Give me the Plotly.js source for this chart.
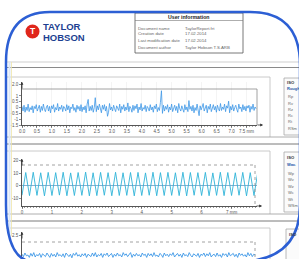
<!DOCTYPE html>
<html><head><meta charset="utf-8">
<script src="https://cdn.plot.ly/plotly-3.0.1.min.js"></script>
<style>html,body{margin:0;padding:0;background:#fff;overflow:hidden}#chart{width:299px;height:259px}</style>
</head><body><div id="chart"></div>
<script>
// ---------- data ----------
const roughXTicks = [0,0.5,1,1.5,2,2.5,3,3.5,4,4.5,5,5.5,6,6.5,7,7.5];
const roughXText = ["0.0","0.5","1.0","1.5","2.0","2.5","3.0","3.5","4.0","4.5","5.0","5.5","6.0","6.5","7.0","7.5 mm"];
const roughYTicks = [2,1,0.5,0,-0.5,-1,-1.5];
const roughYText = ["2.0","1","0.5","0","-0.5","-1","-1.5"];
const roughY = [
0.1,-0.3,0.2,-0.4,0.05,-0.25,0.3,-0.35,0.0,-0.2,
0.15,-0.45,0.1,-0.1,0.25,-0.3,-0.05,0.2,-0.4,0.1,
-0.25,0.3,-0.15,-0.35,0.05,0.2,-0.3,0.1,-0.45,0.15,
-0.1,0.25,-0.4,0.0,-0.2,0.35,-0.3,0.05,-0.15,0.2,
-0.35,0.1,-0.05,-0.3,0.25,-0.2,0.15,-0.45,0.05,-0.1,
0.3,-0.25,0.0,-0.4,0.2,-0.15,0.1,-0.3,0.25,-0.35,
0.05,-0.2,0.15,-0.45,0.3,0.7,-0.3,0.1,-0.25,0.2,
-0.4,0.0,0.85,-0.35,0.15,-0.2,0.3,-0.1,-0.45,0.2,
-0.15,0.25,-0.3,0.1,-0.75,-0.4,0.35,-0.2,0.05,-0.3,
0.2,-0.1,-0.35,0.15,0.0,-0.25,0.3,-0.45,0.1,-0.15,
0.25,-0.3,0.05,-0.2,0.4,-0.35,0.1,-0.05,-0.4,0.2,
-0.25,0.15,-0.1,0.3,-0.45,0.05,-0.2,0.35,-0.3,0.0,
-0.15,0.2,-0.35,0.1,-0.05,-0.3,0.25,-0.2,0.05,-0.4,
0.15,-0.1,0.3,-0.35,0.0,-0.25,0.45,1.45,-0.5,0.2,
-0.3,0.1,-0.15,0.25,-0.4,0.05,-0.2,0.3,-0.35,0.0,
0.2,-0.25,0.1,-0.45,0.35,-0.1,-0.3,0.15,-0.05,-0.4,
0.25,-0.2,0.05,-0.35,0.6,-0.15,0.1,-0.3,0.2,-0.45,
0.0,-0.25,0.3,-0.1,-0.7,0.15,-0.2,0.05,0.35,-0.3,
-0.05,0.2,-0.45,0.1,-0.15,0.3,-0.35,0.0,0.25,-0.2,
0.1,-0.4,0.2,-0.1,-0.3,0.35,-0.25,0.05,-0.15,0.3,
-0.35,0.15,-0.05,0.55,-0.45,0.1,-0.2,0.25,-0.3,0.0,
0.2,-0.15,-0.4,0.3,-0.1,0.05,-0.35,0.25,-0.2,0.1,
-0.3,0.15,-0.05,0.2,-0.4,0.1,-0.15,0.3,-0.25,0.05,-0.1
];
const waveXTicks = [0,1,2,3,4,5,6,7];
const waveXText = ["0","1","2","3","4","5","6","7 mm"];
const waveYTicks = [20,10,0,-10];
const waveYText = ["20","10","0","-10"];
const waveY = [
-7.8,10.4,-8.1,10.6,-7.9,10.2,-8.3,10.5,-8.0,10.3,
-7.7,10.6,-8.2,10.1,-8.0,10.4,-7.9,10.7,-8.3,10.2,
-8.1,10.5,-7.8,10.3,-8.2,10.6,-8.0,10.2,-7.9,10.4,
-8.3,10.5,-8.0,10.1,-7.8,10.6,-8.2,10.3,-8.0,10.5,
-7.9,10.2,-8.1,10.6,-8.3,10.4,-7.8,10.3,-8.0,10.5,
-8.2,10.1,-7.9,10.6,-8.1,10.4,-8.0,10.2,-7.8,10.5,
-8.3,10.3,-8.0,10.4
];
const profileYTicks = [2.5];
const profileYText = ["2.5"];
const profileY = [
0.1,-0.2,0.25,-0.1,0.0,-0.3,0.2,-0.15,0.3,-0.25,
0.05,-0.1,0.2,-0.3,0.15,0.0,-0.2,0.25,-0.05,-0.3,
0.2,-0.15,0.1,-0.25,0.3,-0.1,0.05,-0.2,0.15,-0.3,
0.25,0.0,-0.2,0.1,-0.35,0.2,-0.05,0.3,-0.15,0.05,
-0.25,0.15,-0.1,0.2,-0.3,0.1,0.0,-0.2,0.25,-0.15,
0.3,-0.25,0.05,-0.1,0.2,-0.3,0.15,-0.05,0.25,-0.2,
0.0,0.2,-0.3,0.1,-0.15,0.25,-0.1,0.05,-0.25,0.3,
-0.05,0.15,-0.2,0.0,0.3,-0.3,0.1,-0.15,0.2,-0.1,
0.05,-0.25,0.25,-0.05,0.1,-0.3,0.2,-0.1,0.15,-0.2,
0.3,-0.15,0.0,-0.25,0.2,0.05,-0.3,0.25,-0.1,0.1,
-0.2,0.15,-0.05,0.3,-0.25,0.0,0.2,-0.15,0.1,-0.3,
0.25,-0.1,0.05,-0.2,0.3,-0.05,-0.25,0.15,0.0,-0.15,
0.2,-0.3,0.1,-0.05,0.25,-0.2,0.15,-0.1,0.3,-0.25,
0.0,0.1,-0.2,0.25,-0.15,0.05,-0.3,0.2,-0.05,0.15,
-0.25,0.3,-0.1,0.0,0.2,-0.2,0.1,-0.3,0.25,-0.05,
0.15,-0.15,0.05,-0.25,0.3,-0.1,0.2,-0.2,0.1,0.0
];
const userTitle = "User information";
const userLabels = ["Document name","Creation date","Last modification date","Document author"];
const userValues = ["TaylorReport.frt","17.02.2014","17.02.2014","Taylor Hobson T.S.ARB"];
const isoHead1 = ["ISO","Rough"];
const isoRows1 = ["Rp","Rv","Rz","Rc","Rt","RSm"];
const isoHead2 = ["ISO","Wav."];
const isoRows2 = ["Wp","Wv","Wz","Wc","Wt","WSm"];
const isoHead3 = ["ISO"];

// ---------- helpers (layout only) ----------
const W=299,H=259;
const px=x=>x/W, py=y=>1-y/H;
const FONT='Liberation Sans, Arial, sans-serif';
function txt(x,y,s,size,color,anchor,bold){
  return {xref:'paper',yref:'paper',x:px(x),y:py(y),text:bold?'<b>'+s+'</b>':s,showarrow:false,
    xanchor:anchor||'left',yanchor:'middle',borderpad:0,font:{size:size,color:color,family:FONT}};
}
function ln(x0,y0,x1,y1,color,width,dash){
  return {type:'line',xref:'paper',yref:'paper',x0:px(x0),y0:py(y0),x1:px(x1),y1:py(y1),
    line:{color:color,width:width,dash:dash||'solid'}};
}
function rc(x0,y0,x1,y1,color,width,fill){
  return {type:'rect',xref:'paper',yref:'paper',x0:px(x0),y0:py(y0),x1:px(x1),y1:py(y1),
    line:{color:color,width:width},fillcolor:fill||'rgba(0,0,0,0)',layer:'below'};
}
function arr(x,y,ax,ay){
  return {xref:'paper',yref:'paper',x:px(x),y:py(y),ax:ax,ay:ay,showarrow:true,arrowhead:2,
    arrowsize:0.7,arrowwidth:0.8,arrowcolor:'#333',text:''};
}
function P(x,y){return px(x)+','+py(y);}

const shapes=[], annotations=[];
// header
shapes.push(ln(6,62,299,62,'#cfcfcf',1));
shapes.push({type:'circle',xref:'paper',yref:'paper',x0:px(25.5),y0:py(38.5),x1:px(39.5),y1:py(24.5),fillcolor:'#e0261b',line:{width:0}});
annotations.push(txt(32.5,31.5,'T',8.5,'#ffffff','center',true));
annotations.push(txt(42,26.3,'TAYLOR',9.5,'#1d3f91','left',true));
annotations.push(txt(42,37.2,'HOBSON',9.5,'#1d3f91','left',true));
// user info box
shapes.push(rc(135,13,243,53,'#555',0.8,'#ffffff'));
shapes.push(ln(135,20.5,243,20.5,'#777',0.6));
annotations.push(txt(189,16.8,userTitle,5.2,'#222','center',true));
const userY=[28,34,40.5,48];
userLabels.forEach((l,i)=>{annotations.push(txt(137,userY[i],l,4.3,'#666','left'));
  annotations.push(txt(184,userY[i],userValues[i],4.3,'#666','left'));});

// section 1
shapes.push(ln(6,67.5,299,67.5,'#8a8a8a',1));
shapes.push(ln(6,77,270,77,'#bcbcbc',0.8));
shapes.push(ln(270,77,270,137,'#bcbcbc',0.8));
shapes.push(ln(6,137,299,137,'#9a9a9a',0.8));
shapes.push(ln(22,89,257,89,'#8c8c8c',0.8));
shapes.push(ln(257,89,257,125,'#8c8c8c',0.8));
shapes.push(rc(284,78,305,135,'#a8a8a8',0.8,'#fbfbfb'));
annotations.push(txt(286,82,isoHead1[0],4.2,'#333','left',true));
annotations.push(txt(286,88,isoHead1[1],4,'#2457a8','left',true));
isoRows1.forEach((r,i)=>annotations.push(txt(287,97+i*6.2,r,4,'#666','left')));
annotations.push(arr(22,82,0,8));
annotations.push(arr(263,125,-7,0));

// section 2
shapes.push(ln(6,144,299,144,'#7a7a7a',1));
shapes.push(ln(6,151,270,151,'#bcbcbc',0.8));
shapes.push(ln(270,151,270,214,'#bcbcbc',0.8));
shapes.push(ln(6,214,299,214,'#9a9a9a',0.8));
shapes.push(ln(22,165,255,165,'#8c8c8c',0.8,'dot'));
shapes.push(ln(255,165,255,206,'#8c8c8c',0.8,'dot'));
shapes.push(rc(284,152,305,212,'#a8a8a8',0.8,'#fbfbfb'));
annotations.push(txt(286,157,isoHead2[0],4.2,'#333','left',true));
annotations.push(txt(286,164,isoHead2[1],4,'#2457a8','left',true));
isoRows2.forEach((r,i)=>annotations.push(txt(287,173+i*6.5,r,4,'#666','left')));
annotations.push(arr(22,159,0,8));
annotations.push(arr(262,206,-7,0));

// section 3
shapes.push(ln(6,221,299,221,'#7a7a7a',1));
shapes.push(ln(6,228,270,228,'#bcbcbc',0.8));
shapes.push(ln(270,228,270,259,'#bcbcbc',0.8));
shapes.push(ln(22,242,255,242,'#8c8c8c',0.8,'dot'));
shapes.push(ln(255,242,255,259,'#8c8c8c',0.8,'dot'));
shapes.push(rc(286,229,305,262,'#a8a8a8',0.8,'#fbfbfb'));
annotations.push(txt(288,234,isoHead3[0],4.2,'#333','left',true));
annotations.push(arr(22,232,0,8));

// lens inner glow + border
shapes.push(ln(9.5,62,9.5,236,'#dbe7f8',2));
shapes.push(ln(11.5,62,11.5,236,'#efe5a8',0.8));
const lens='M '+P(6,62)+' Q '+P(6,12)+' '+P(50,12)+' L '+P(250,12)+' Q '+P(300,12)+' '+P(300,65)+
  ' L '+P(300,205)+' Q '+P(300,262)+' '+P(235,262)+' L '+P(35,262)+' Q '+P(6,262)+' '+P(6,205)+' Z';
shapes.push({type:'path',xref:'paper',yref:'paper',path:lens,line:{color:'#2c5fd4',width:2.5},fillcolor:'rgba(0,0,0,0)'});

const tf={size:4.5,color:'#555',family:FONT};
const axBase={ticks:'outside',ticklen:2,tickwidth:0.6,tickcolor:'#444',showline:true,linecolor:'#444',linewidth:0.9,
  zeroline:false,tickfont:tf,fixedrange:true,tickmode:'array'};

const data=[
 {type:'scatter',mode:'lines',y:roughY,x0:0,dx:0.034,xaxis:'x',yaxis:'y',line:{color:'#3d97e6',width:0.8},hoverinfo:'skip'},
 {type:'scatter',mode:'lines',y:waveY,x0:0,dx:0.125,xaxis:'x2',yaxis:'y2',line:{color:'#2fb3d8',width:0.9},hoverinfo:'skip'},
 {type:'scatter',mode:'lines',y:profileY,x0:0,dx:0.049,xaxis:'x3',yaxis:'y3',line:{color:'#3d97e6',width:0.9},hoverinfo:'skip'}
];
const layout={
 width:W,height:H,margin:{l:0,r:0,t:0,b:0},paper_bgcolor:'#ffffff',plot_bgcolor:'rgba(0,0,0,0)',showlegend:false,
 xaxis:Object.assign({},axBase,{domain:[px(22),px(257)],range:[0,7.85],tickvals:roughXTicks,ticktext:roughXText,anchor:'y',
   showgrid:true,gridcolor:'#ececec',gridwidth:0.6,minor:{ticks:'outside',ticklen:1,dtick:0.1,tickcolor:'#777',showgrid:false}}),
 yaxis:Object.assign({},axBase,{domain:[py(125),py(82)],range:[-1.5,2.2],tickvals:roughYTicks,ticktext:roughYText,anchor:'x',showgrid:false}),
 xaxis2:Object.assign({},axBase,{domain:[px(22),px(257)],range:[0,7.85],tickvals:waveXTicks,ticktext:waveXText,anchor:'y2',
   showgrid:false,minor:{ticks:'outside',ticklen:1.2,dtick:0.1,tickcolor:'#555',showgrid:false}}),
 yaxis2:Object.assign({},axBase,{domain:[py(206),py(159)],range:[-16.4,21.2],tickvals:waveYTicks,ticktext:waveYText,anchor:'x2',
   showgrid:false,zeroline:true,zerolinecolor:'#7fa6c9',zerolinewidth:0.9}),
 xaxis3:{domain:[px(22),px(257)],range:[0,7.85],anchor:'y3',visible:false,fixedrange:true},
 yaxis3:Object.assign({},axBase,{domain:[0,py(232)],range:[-0.5,2.88],tickvals:profileYTicks,ticktext:profileYText,anchor:'x3',showgrid:false}),
 shapes:shapes,annotations:annotations
};
Plotly.newPlot('chart',data,layout,{displayModeBar:false,staticPlot:true});
</script></body></html>
